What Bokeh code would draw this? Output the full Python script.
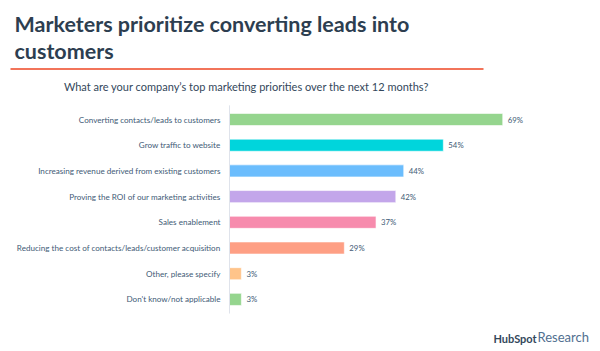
from bokeh.plotting import figure
from bokeh.models import Range1d, Label, BoxAnnotation, ColumnDataSource
from bokeh.core.properties import value
from bokeh.embed import file_html
from bokeh.resources import INLINE

categories = [
    "Converting contacts/leads to customers",
    "Grow traffic to website",
    "Increasing revenue derived from existing customers",
    "Proving the ROI of our marketing activities",
    "Sales enablement",
    "Reducing the cost of contacts/leads/customer acquisition",
    "Other, please specify",
    "Don't know/not applicable",
]
values = [69, 54, 44, 42, 37, 29, 3, 3]
value_labels = ["69%", "54%", "44%", "42%", "37%", "29%", "3%", "3%"]
colors = ["#95d58e", "#00d5dc", "#6bbdfd", "#c3a6ea", "#f78bad", "#fe9f84", "#ffc48a", "#95d58e"]

title_line1 = "Marketers prioritize converting leads into"
title_line2 = "customers"
subtitle = "What are your company\u2019s top marketing priorities over the next 12 months?"

W, H = 600, 351
px_per_unit = 3.96
x0_px = 229
row0_px = 119
row_step = 25.7

idx = list(range(len(categories)))
src = ColumnDataSource(dict(y=idx, v=values, c=colors, cat=categories, lab=value_labels))

p = figure(width=W, height=H, output_backend="svg", toolbar_location=None,
           x_range=Range1d(-x0_px / px_per_unit, (W - x0_px) / px_per_unit),
           y_range=Range1d((H - row0_px) / row_step, -row0_px / row_step),
           min_border=0, outline_line_color=None)
p.axis.visible = False
p.grid.visible = False
p.background_fill_color = "white"
p.border_fill_color = "white"

p.hbar(y="y", left=0, right="v", height=0.47, fill_color="c", line_color="white",
       line_width=0.6, source=src)
p.segment(x0=[0], y0=[-0.55], x1=[0], y1=[len(categories) - 0.45], line_color="#dfe3eb", line_width=1)

p.text(x=0, y="y", text="cat", source=src, x_offset=-9, text_align="right", text_baseline="middle",
       text_font=value("Lato"), text_font_size="8.1px", text_color="#425b76")
p.text(x="v", y="y", text="lab", source=src, x_offset=5, text_align="left", text_baseline="middle",
       text_font=value("Lato"), text_font_size="7.8px", text_color="#425b76")

font = "Lato"
p.add_layout(Label(x=14, y=H - 36, x_units="screen", y_units="screen", text=title_line1,
                   text_font=font, text_font_style="bold", text_font_size="21.5px", text_color="#2d3e50"))
p.add_layout(Label(x=14, y=H - 63, x_units="screen", y_units="screen", text=title_line2,
                   text_font=font, text_font_style="bold", text_font_size="21.5px", text_color="#2d3e50"))
p.add_layout(BoxAnnotation(left=10, right=483, bottom=H - 69.5, top=H - 67.5,
                           left_units="screen", right_units="screen", bottom_units="screen", top_units="screen",
                           fill_color="#f2745a", fill_alpha=1, line_color=None))
p.add_layout(Label(x=246, y=H - 92, x_units="screen", y_units="screen", text=subtitle, text_align="center",
                   text_font=font, text_font_size="11px", text_color="#33475b"))
p.add_layout(Label(x=493, y=H - 344, x_units="screen", y_units="screen", text="HubSpot",
                   text_font=font, text_font_style="bold", text_font_size="11px", text_color="#33475b"))
p.add_layout(Label(x=537, y=H - 344, x_units="screen", y_units="screen", text="Research",
                   text_font=font, text_font_size="13px", text_color="#516f90"))

open("out.html", "w").write(file_html(p, INLINE))
